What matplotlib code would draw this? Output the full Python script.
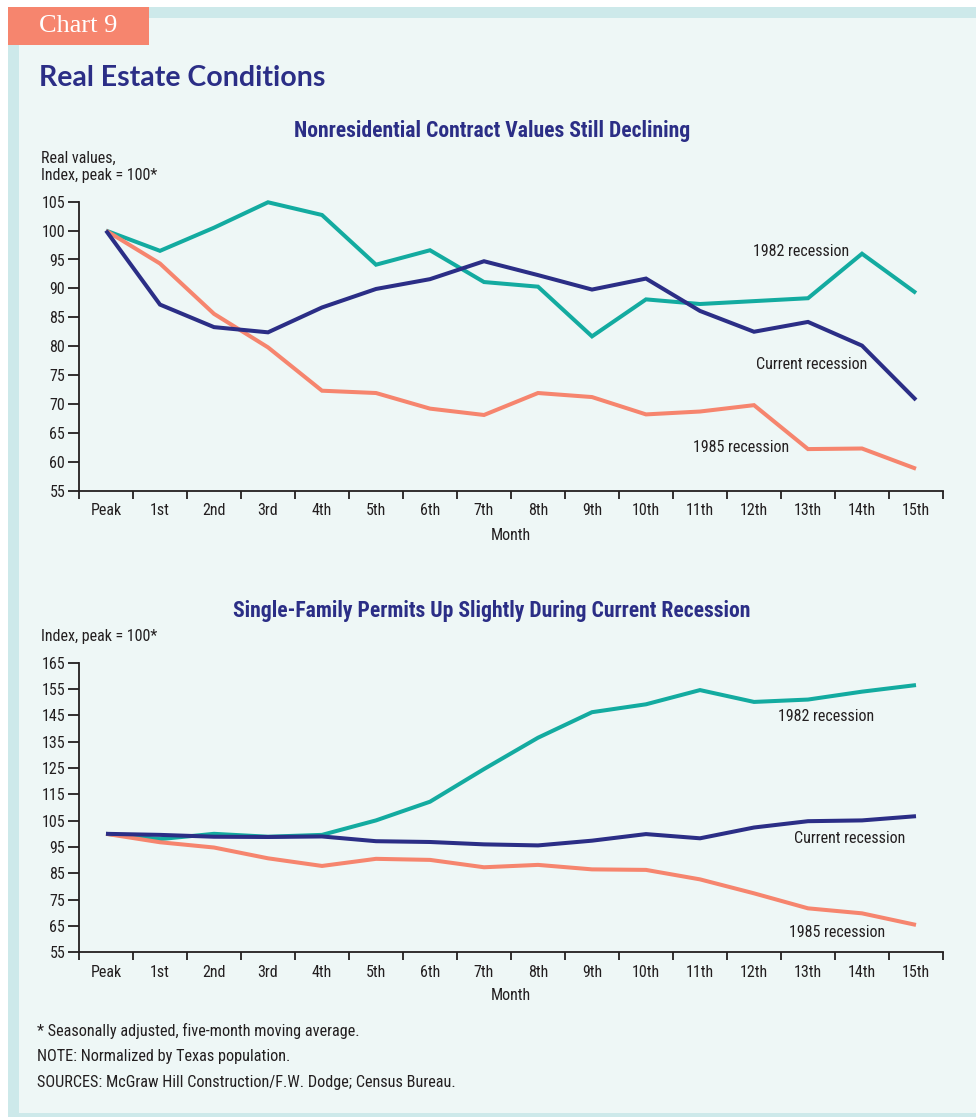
import matplotlib
matplotlib.use("Agg")
import matplotlib.pyplot as plt
from matplotlib import font_manager
from matplotlib.patches import Rectangle
from matplotlib.ticker import FixedLocator, NullFormatter

# Data
months = ["Peak", "1st", "2nd", "3rd", "4th", "5th", "6th", "7th",
          "8th", "9th", "10th", "11th", "12th", "13th", "14th", "15th"]

contract_1982 = [100, 96.5, 100.5, 104.9, 102.7, 94.1, 96.6, 91.1,
                 90.3, 81.7, 88.1, 87.3, 87.8, 88.3, 96.0, 89.2]
contract_current = [100, 87.2, 83.3, 82.4, 86.7, 89.9, 91.6, 94.7,
                    92.3, 89.8, 91.7, 86.1, 82.5, 84.2, 80.1, 70.7]
contract_1985 = [100, 94.3, 85.6, 79.8, 72.3, 71.9, 69.2, 68.1,
                 71.9, 71.2, 68.2, 68.7, 69.8, 62.2, 62.3, 58.8]

permits_1982 = [100, 98.0, 100.0, 98.9, 99.6, 105.1, 112.2, 124.6,
                136.5, 146.2, 149.2, 154.6, 150.1, 151.0, 154.0, 156.5]
permits_current = [100, 99.6, 98.9, 98.8, 99.0, 97.2, 96.9, 96.0,
                   95.6, 97.4, 99.9, 98.3, 102.4, 104.8, 105.1, 106.7]
permits_1985 = [100, 96.8, 94.8, 90.7, 87.8, 90.5, 90.1, 87.3,
                88.2, 86.5, 86.3, 82.7, 77.4, 71.7, 69.8, 65.4]

TEAL = "#13aba0"
NAVY = "#2b2e86"
SALMON = "#f6856e"
PANEL = "#eef7f6"
STRIP = "#cde9ea"
TEXT = "#231f20"

W, H = 976, 1117

# pick a condensed sans if one is around, else Roboto
have = {f.name for f in font_manager.fontManager.ttflist}


def pick(cands, default):
    for c in cands:
        if c in have:
            return c
    return default


COND_NAME = pick(["Roboto Condensed", "Archivo Narrow", "Liberation Sans Narrow",
                  "Fira Sans Condensed", "IBM Plex Sans Condensed", "Barlow Semi Condensed",
                  "Asap Condensed", "Encode Sans Condensed"], "Roboto")
COND = [COND_NAME, "DejaVu Sans"]
HEAD = ["Lato", "DejaVu Sans"]

fig = plt.figure(figsize=(W / 100, H / 100), dpi=100, facecolor="white")


def px_rect(x0, y0, x1, y1, color):
    fig.patches.append(Rectangle((x0 / W, 1 - y1 / H), (x1 - x0) / W, (y1 - y0) / H,
                                 transform=fig.transFigure, facecolor=color,
                                 edgecolor="none", zorder=-5))


def ftext(x, y, s, **kw):
    fig.text(x / W, 1 - y / H, s, **kw)


# background frame
px_rect(8, 7, W, H, STRIP)
px_rect(19, 18, W, 1113, PANEL)
px_rect(8, 7, 149, 45, SALMON)
ftext(78, 26, "Chart 9", family="Liberation Serif", fontsize=19, color="white",
      ha="center", va="center")
ftext(39, 78, "Real Estate Conditions", family=HEAD, fontweight="bold",
      fontsize=20.5, color=NAVY, ha="left", va="center")

LBL = 11.5


def make_panel(bottom_px, top_px, lo, hi, step, series, labels, title, title_y, ylab, ylab_y, month_y):
    ax = fig.add_axes([79 / W, 1 - bottom_px / H, 864 / W, (bottom_px - top_px) / H])
    ax.set_facecolor("none")
    x = range(len(months))
    for vals, col in series:
        ax.plot(x, vals, color=col, lw=2.9, solid_joinstyle="miter", solid_capstyle="butt",
                clip_on=False)
    ax.set_xlim(-0.5, len(months) - 0.5)
    ax.set_ylim(lo, hi)
    ax.set_yticks(range(lo, hi + 1, step))
    ax.set_xticks(list(x))
    ax.set_xticklabels(months)
    ax.xaxis.set_minor_locator(FixedLocator([i - 0.5 for i in range(len(months) + 1)]))
    ax.xaxis.set_minor_formatter(NullFormatter())
    ax.tick_params(axis="x", which="major", length=0, pad=9, labelsize=LBL, labelcolor=TEXT)
    ax.tick_params(axis="x", which="minor", length=6, width=1.3, color=TEXT)
    ax.tick_params(axis="y", length=8, width=1.3, color=TEXT, labelsize=LBL, labelcolor=TEXT, pad=2)
    for lab in ax.get_xticklabels() + ax.get_yticklabels():
        lab.set_family(COND)
    for s in ["top", "right"]:
        ax.spines[s].set_visible(False)
    for s in ["left", "bottom"]:
        ax.spines[s].set_linewidth(1.3)
        ax.spines[s].set_color(TEXT)
    for (tx, ty, s) in labels:
        ax.text(tx, ty, s, family=COND, fontsize=LBL, color=TEXT, ha="center", va="center")
    ftext(492, title_y, title, family=COND, fontweight="bold", fontsize=15.6,
          color=NAVY, ha="center", va="center")
    ftext(41, ylab_y, ylab, family=COND, fontsize=LBL, color=TEXT, ha="left",
          va="center", linespacing=1.15)
    ftext(511, month_y, "Month", family=COND, fontsize=LBL, color=TEXT, ha="center", va="center")
    return ax


make_panel(490.7, 201.7, 55, 105, 5,
           [(contract_1982, TEAL), (contract_1985, SALMON), (contract_current, NAVY)],
           [(12.87, 96.3, "1982 recession"), (13.07, 76.9, "Current recession"),
            (11.76, 62.55, "1985 recession")],
           "Nonresidential Contract Values Still Declining", 131,
           "Real values,\nIndex, peak = 100*", 167, 535)

make_panel(952.3, 662.7, 55, 165, 10,
           [(permits_1982, TEAL), (permits_1985, SALMON), (permits_current, NAVY)],
           [(13.33, 144.4, "1982 recession"), (13.77, 98.4, "Current recession"),
            (13.54, 62.7, "1985 recession")],
           "Single-Family Permits Up Slightly During Current Recession", 611,
           "Index, peak = 100*", 637, 996)

notes = ["* Seasonally adjusted, five-month moving average.",
         "NOTE: Normalized by Texas population.",
         "SOURCES: McGraw Hill Construction/F.W. Dodge; Census Bureau."]
for i, n in enumerate(notes):
    ftext(37, 1031 + 26 * i, n, family=COND, fontsize=11.7, color=TEXT, ha="left", va="center")

fig.savefig("out.png", dpi=100, facecolor=fig.get_facecolor())
